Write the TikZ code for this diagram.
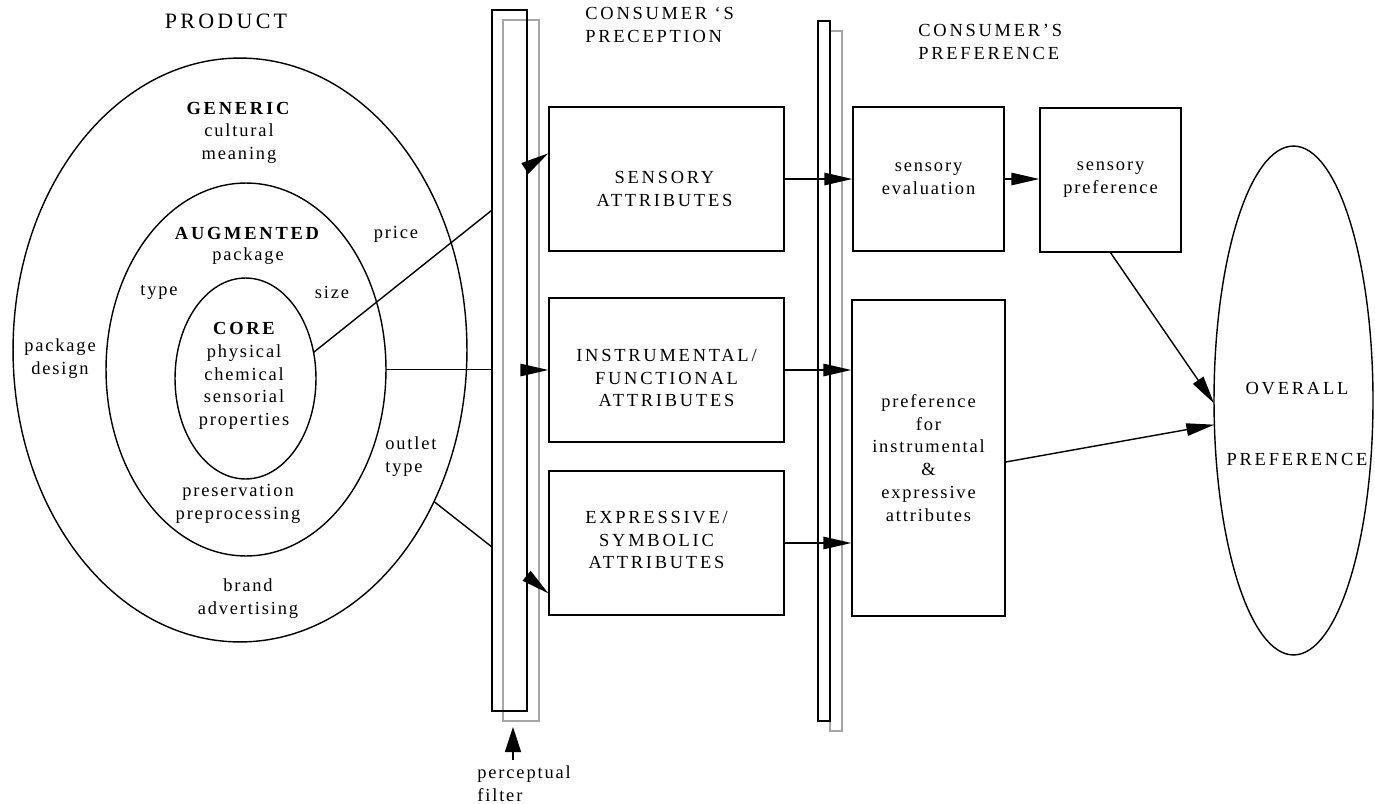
\documentclass[tikz,border=0pt]{standalone}
\usepackage{fontspec}
\setmainfont{Liberation Serif}
\newfontfamily\capfont[LetterSpace=15]{Liberation Serif}
\newfontfamily\txtfont[LetterSpace=10]{Liberation Serif}
\usetikzlibrary{calc,shapes.geometric,arrows.meta}

\tikzset{
	lbl/.style={font=\txtfont\fontsize{10.5}{13}\selectfont, align=center, inner sep=0pt},
	caplbl/.style={font=\capfont\fontsize{10.5}{13}\selectfont, align=center, inner sep=0pt},
	boldlbl/.style={font=\capfont\bfseries\fontsize{10.5}{13}\selectfont, inner sep=0pt},
	head/.style={font=\capfont\fontsize{12.5}{15}\selectfont, inner sep=0pt},
	attrbox/.style={draw, line width=0.8pt, minimum width=4.7cm, minimum height=2.88cm},
	prefbox/.style={draw, line width=0.8pt, lbl, minimum height=2.88cm},
	ring/.style={draw, ellipse, line width=0.8pt, inner sep=0pt, outer sep=0pt},
	filt/.style={draw, line width=1.1pt, inner sep=0pt, outer sep=0pt, minimum width=#1, minimum height=14.02cm},
	filtback/.style={filt=#1, draw=black!35},
	link/.style={line width=0.8pt},
	tip/.style={line width=0.8pt, -{Triangle[length=0.56cm, width=0.25cm]}},
}

\begin{document}
\begin{tikzpicture}[x=0.02cm, y=-0.02cm]
			%%%%% START %%%%%
			\useasboundingbox (0,0) rectangle (1375,804);
			
			% product rings
			\node[ring, minimum width=9.08cm, minimum height=11.68cm] (generic) at (240,350) {};
			\node[ring, minimum width=5.6cm, minimum height=7.46cm] (augm) at (246,369.5) {};
			\node[ring, minimum width=2.82cm, minimum height=4.02cm] (core) at (245.5,378.5) {};
			
			\node[head] (tprod) at (226,21) {PRODUCT};
			\node[boldlbl] (tgen) at (238,108) {GENERIC};
			\node[lbl] (tcult) at (239,144) {cultural\\meaning};
			\node[boldlbl] (taug) at (247,233) {AUGMENTED};
			\node[lbl] (tpack) at (248,256) {package};
			\node[lbl] (tprice) at (396,234) {price};
			\node[lbl] (ttype) at (159,292) {type};
			\node[lbl] (tsize) at (332,292) {size};
			\node[boldlbl] (tcore) at (244,328) {CORE};
			\node[lbl] (tprop) at (244,387) {physical\\chemical\\sensorial\\properties};
			\node[lbl] (tdes) at (60,359) {package\\design};
			\node[lbl, anchor=west, align=left] (tout) at (385,457) {outlet\\type};
			\node[lbl] (tpres) at (238,504) {preservation\\preprocessing};
			\node[lbl] (tbrand) at (248,599) {brand\\advertising};
			
			% perceptual filters
			\node[filtback=0.72cm] (f1g) at (521,370.5) {};
			\node[filt=0.7cm] (f1) at (509.5,360.5) {};
			\node[filtback=0.24cm] (f2g) at (836,381) {};
			\node[filt=0.24cm] (f2) at (824,371) {};
			
			\node[caplbl, anchor=west, align=left] (tperc) at (585,25) {CONSUMER ‘S\\PRECEPTION};
			\node[caplbl, anchor=west, align=left] (tpref) at (918,42) {CONSUMER’S\\PREFERENCE};
			\node[lbl, anchor=west, align=left] (tfilt) at (477,784) {perceptual\\filter};
			\coordinate (fa) at (513,760);
			\coordinate (fb) at (513,727);
			\draw[line width=0.8pt, -{Triangle[length=0.5cm, width=0.32cm]}] (fa) -- (fb);
			
			% attributes
			\node[attrbox] (sa) at (666.5,179) {};
			\node[attrbox] (ia) at (666.5,370) {};
			\node[attrbox] (ea) at (666.5,543) {};
			\node[caplbl] (tsa) at ($(sa)+(-2,10)$) {SENSORY\\ATTRIBUTES};
			\node[caplbl] (tia) at ($(ia)+(0,8)$) {INSTRUMENTAL/\\FUNCTIONAL\\ATTRIBUTES};
			\node[caplbl] (tea) at ($(ea)+(-10,-3)$) {EXPRESSIVE/\\SYMBOLIC\\ATTRIBUTES};
			
			% preferences
			\node[prefbox, minimum width=3.02cm] (se) at (928.5,179) {sensory\\evaluation};
			\node[prefbox, minimum width=2.82cm] (sp) at (1110.5,180) {sensory\\preference};
			\node[prefbox, minimum width=3.06cm, minimum height=6.32cm] (pf) at (928.5,458) {preference\\for\\instrumental\\\&\\expressive\\attributes};
			
			\node[ring, minimum width=3.18cm, minimum height=10.18cm] (ov) at (1293.5,400.5) {};
			\node[caplbl] (tov) at (1297,389) {OVERALL};
			\node[caplbl] (tovp) at (1297,459) {PREFERENCE};
			
			% links into the filter
			\draw[link] (core.21) -- ($(f1.north west)+(0,200)$);
			\draw[link] (augm.east) -- (augm.east -| f1.west);
			\draw[link] (generic.-38) -- ($(f1.north west)+(0,537)$);
			\draw[tip] ($(f1.north east)+(0,157)$) -- ($(sa.north west)+(0,47)$);
			\draw[tip] (ia.west -| f1.east) -- (ia.west);
			\draw[tip] ($(f1.north east)+(0,566)$) -- ($(ea.north west)+(0,123)$);
			
			% links to preference
			\draw[tip] (sa.east) -- (se.west);
			\draw[tip] (ia.east) -- (ia.east -| pf.west);
			\draw[tip] (ea.east) -- (ea.east -| pf.west);
			\draw[tip] (se.east) -- (se.east -| sp.west);
			\draw[tip] (sp.south) -- (ov.182);
			\draw[tip] ($(pf.east)+(0,4)$) -- (ov.197);
			
			%%%%% END %%%%%
\end{tikzpicture}
\end{document}
